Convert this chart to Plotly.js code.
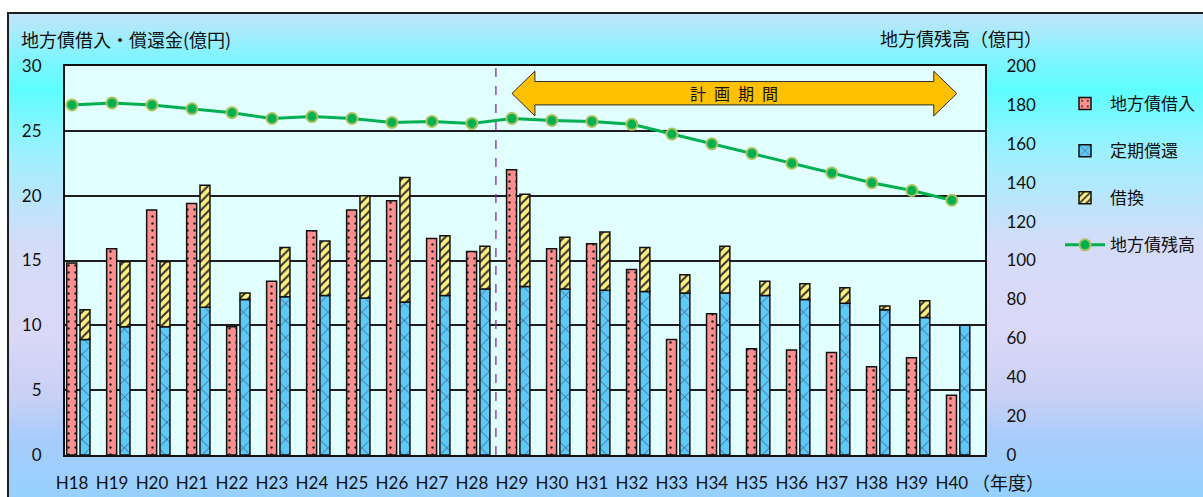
<!DOCTYPE html>
<html>
<head>
<meta charset="utf-8">
<script src="https://cdn.plot.ly/plotly-3.0.1.min.js"></script>
<style>
  html, body { margin: 0; padding: 0; background: #ffffff; overflow: hidden; }
  #frame {
    position: absolute; left: 7px; top: 12px; width: 1230px; height: 520px;
    border: 2px solid #1e1e1e; box-sizing: border-box;
    background: linear-gradient(to bottom,
      #c2e4f8 0px, #86f3ff 40px, #5efeff 75px, #9ff0ff 140px,
      #d4dcf8 230px, #dad8f7 320px, #c8d0f5 385px, #a7ccfb 425px, #94d2ff 490px);
  }
  #chart { position: absolute; left: 0; top: 0; width: 1203px; height: 497px; }
</style>
</head>
<body>
<div id="frame"></div>
<div id="chart"></div>
<script>
// 年度
const categories = ['H18','H19','H20','H21','H22','H23','H24','H25','H26','H27','H28','H29',
                    'H30','H31','H32','H33','H34','H35','H36','H37','H38','H39','H40'];
// 地方債借入（億円）
const borrowing = [14.8,15.9,18.9,19.4,9.9,13.4,17.3,18.9,19.6,16.7,15.7,22.0,
                   15.9,16.3,14.3,8.9,10.9,8.2,8.1,7.9,6.8,7.5,4.6];
// 定期償還（億円）
const redemption = [8.9,9.9,9.9,11.4,12.0,12.2,12.3,12.1,11.8,12.3,12.8,13.0,
                    12.8,12.7,12.6,12.5,12.5,12.3,12.0,11.7,11.2,10.6,10.0];
// 借換（億円）— 定期償還の上に積み上げ
const refinancing = [2.3,5.0,5.0,9.4,0.5,3.8,4.2,7.9,9.6,4.6,3.3,7.1,
                     4.0,4.5,3.4,1.4,3.6,1.1,1.2,1.2,0.3,1.3,0];
// 地方債残高（億円）
const balance = [180,181,180,178,176,173,174,173,171,171.5,170.5,173,
                 172,171.5,170,165,160,155,150,145,140,136,131];

// 計画期間
const planStart = 'H29';
const planEnd = 'H40';

const idx = categories.map((c, i) => i);

// plot area geometry (pixels) used for text placement
const L = 65, R = 985, T = 66, B = 455;
const px = x => (x - L) / (R - L);
const py = y => (B - y) / (B - T);

const numFont = 'Lato, "Noto Sans CJK JP", sans-serif';
const jpFont = '"Noto Sans CJK JP", "Noto Sans", sans-serif';

const barLine = { color: '#111111', width: 1.5 };

const traces = [
  {
    type: 'bar', name: '地方債借入', x: idx, y: borrowing,
    width: 0.25, offset: -0.133,
    marker: { color: '#ff8f8f', line: barLine,
      pattern: { shape: '.', fgcolor: '#222222', bgcolor: '#ff8f8f', size: 7, solidity: 0.1 } },
    legendgroup: 'a', hoverinfo: 'y'
  },
  {
    type: 'bar', name: '定期償還', x: idx, y: redemption,
    width: 0.25, offset: 0.2,
    marker: { color: '#5ec8f8', line: barLine,
      pattern: { shape: 'x', fgcolor: '#1d3b55', bgcolor: '#5ec8f8', size: 12, solidity: 0.1 } },
    legendgroup: 'b', hoverinfo: 'y'
  },
  {
    type: 'bar', name: '借換', x: idx, y: refinancing, base: redemption,
    width: 0.25, offset: 0.2,
    marker: { color: '#fff07e', line: barLine,
      pattern: { shape: '/', fgcolor: '#333333', bgcolor: '#fff07e', size: 6, solidity: 0.35 } },
    legendgroup: 'c', hoverinfo: 'y'
  },
  {
    type: 'scatter', mode: 'lines+markers', name: '地方債残高', x: idx, y: balance,
    yaxis: 'y2',
    line: { color: '#00b050', width: 3 },
    marker: { color: '#00b050', size: 11, line: { color: '#a9c25f', width: 2 } },
    legendgroup: 'd', hoverinfo: 'y'
  }
];

// 計画期間の両矢印
const s = categories.indexOf(planStart);
const e = categories.indexOf(planEnd);
const x0 = s, x1 = e + 0.125, head = 0.575;
const yc = 27.88, bt = 28.8, bb = 27.0, ht = 29.6, hb = 26.15;
const arrowPath =
  `M ${x0},${yc} L ${x0 + head},${ht} L ${x0 + head},${bt} L ${x1 - head},${bt} ` +
  `L ${x1 - head},${ht} L ${x1},${yc} L ${x1 - head},${hb} L ${x1 - head},${bb} ` +
  `L ${x0 + head},${bb} L ${x0 + head},${hb} Z`;

const layout = {
  width: 1203, height: 497,
  margin: { l: L, r: 1203 - R, t: T, b: 497 - B, autoexpand: false },
  paper_bgcolor: 'rgba(0,0,0,0)',
  plot_bgcolor: '#e2ffff',
  barmode: 'overlay',
  showlegend: true,
  legend: {
    x: px(1060), y: py(86), xanchor: 'left', yanchor: 'top',
    bgcolor: 'rgba(0,0,0,0)', borderwidth: 0,
    font: { family: jpFont, size: 17, color: '#111111' },
    tracegroupgap: 22, traceorder: 'grouped', itemwidth: 40
  },
  xaxis: {
    range: [-0.175, 22.83],
    tickmode: 'array', tickvals: idx, ticktext: categories,
    ticks: 'outside', ticklen: 12, tickcolor: 'rgba(0,0,0,0)',
    tickfont: { family: numFont, size: 17, color: '#111111' },
    showgrid: false, zeroline: false,
    showline: true, linecolor: '#111111', linewidth: 2, mirror: true
  },
  yaxis: {
    range: [0, 30], dtick: 5,
    ticks: 'outside', ticklen: 18, tickcolor: 'rgba(0,0,0,0)',
    tickfont: { family: numFont, size: 17, color: '#111111' },
    showgrid: true, gridcolor: '#1e1e1e', gridwidth: 2, zeroline: false,
    showline: true, linecolor: '#111111', linewidth: 2, mirror: true
  },
  yaxis2: {
    range: [0, 200], dtick: 20, overlaying: 'y', side: 'right',
    ticks: 'outside', ticklen: 17, tickcolor: 'rgba(0,0,0,0)',
    tickfont: { family: numFont, size: 17, color: '#111111' },
    showgrid: false, zeroline: false, showline: false
  },
  shapes: [
    {
      type: 'line', xref: 'x', yref: 'paper',
      x0: s - 0.4, x1: s - 0.4, y0: 0, y1: 1,
      line: { color: '#7a2fb5', width: 1.3, dash: 'dash' }, layer: 'above'
    },
    {
      type: 'path', xref: 'x', yref: 'y', path: arrowPath,
      fillcolor: '#ffc000', line: { color: '#2a2a2a', width: 1 }, layer: 'above'
    }
  ],
  annotations: [
    {
      text: '計\u2002画\u2002期\u2002間', xref: 'x', yref: 'y',
      x: (x0 + x1) / 2, y: yc, showarrow: false,
      font: { family: jpFont, size: 16, color: '#111111' }
    },
    {
      text: '地方債借入・償還金(億円)', xref: 'paper', yref: 'paper',
      x: px(19), y: py(39), xanchor: 'left', yanchor: 'middle', showarrow: false,
      font: { family: jpFont, size: 18, color: '#111111' }
    },
    {
      text: '地方債残高（億円）', xref: 'paper', yref: 'paper',
      x: px(878), y: py(38), xanchor: 'left', yanchor: 'middle', showarrow: false,
      font: { family: jpFont, size: 18, color: '#111111' }
    },
    {
      text: '（年度）', xref: 'paper', yref: 'paper',
      x: px(970), y: py(482), xanchor: 'left', yanchor: 'middle', showarrow: false,
      font: { family: jpFont, size: 18, color: '#111111' }
    }
  ]
};

Plotly.newPlot('chart', traces, layout, { displayModeBar: false, staticPlot: true });
</script>
</body>
</html>
